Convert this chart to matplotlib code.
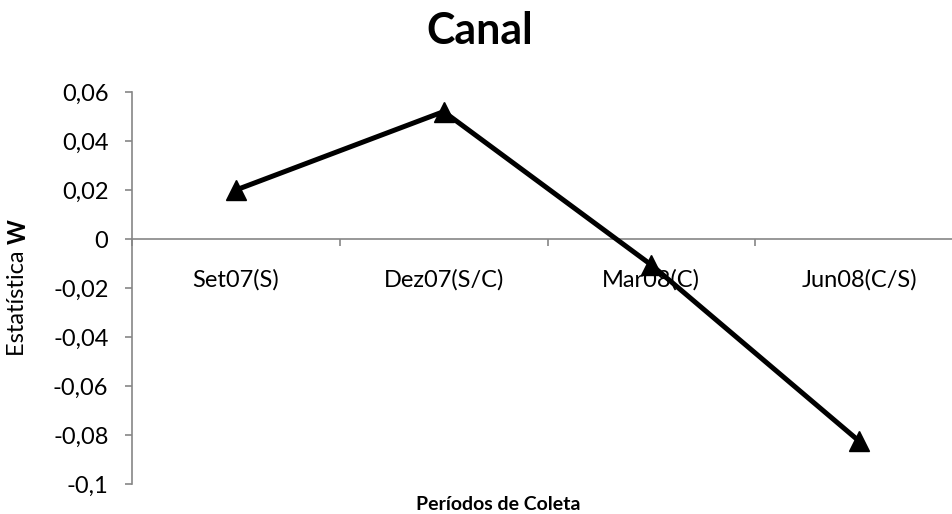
import matplotlib
matplotlib.use("Agg")
import matplotlib.pyplot as plt
from matplotlib.ticker import FixedLocator, FuncFormatter

categories = ["Set07(S)", "Dez07(S/C)", "Mar08(C)", "Jun08(C/S)"]
values = [0.020, 0.052, -0.0106, -0.0825]
yticks = [-0.1, -0.08, -0.06, -0.04, -0.02, 0, 0.02, 0.04, 0.06]

plt.rcParams['font.family'] = ['Lato', 'DejaVu Sans']
W, H = 952, 514
fig = plt.figure(figsize=(W/100, H/100), dpi=100)
ax = fig.add_axes([132/W, (H-484)/H, (963-132)/W, (484-92)/H])

x = list(range(len(categories)))
ax.plot(x, values, color='black', lw=3.6, marker='^', markersize=15, zorder=5, clip_on=False)

ax.set_xlim(-0.5, len(categories)-0.5)
ax.set_ylim(-0.1, 0.06)

gray = '#868686'
for s in ['top', 'right']:
    ax.spines[s].set_visible(False)
ax.spines['left'].set_color(gray)
ax.spines['bottom'].set_color(gray)
ax.spines['bottom'].set_position(('data', 0))
ax.spines['left'].set_linewidth(1.2)
ax.spines['bottom'].set_linewidth(1.2)

ax.set_yticks(yticks)
def fmt(v, p):
    s = ('%g' % round(v, 4)).replace('.', ',')
    if s == '-0':
        s = '0'
    return s
ax.yaxis.set_major_formatter(FuncFormatter(fmt))
ax.tick_params(axis='y', colors=gray, length=5, width=1.2, labelcolor='black', labelsize=17, pad=12)

ax.set_xticks(x)
ax.set_xticklabels(categories)
ax.xaxis.set_minor_locator(FixedLocator([i - 0.5 for i in range(len(categories)+1)]))
ax.tick_params(axis='x', which='major', length=0, labelsize=17, pad=22)
ax.tick_params(axis='x', which='minor', colors=gray, length=5, width=1.2, direction='out')

fig.text(480/W, 1-31/H, 'Canal', fontsize=31, fontweight='bold', ha='center', va='center')
fig.text(498/W, 1-505/H, 'Períodos de Coleta', fontsize=14, fontweight='bold', ha='center', va='center')
fig.text(18/W, 1-244/H, 'Estatística ', fontsize=17, rotation=90, rotation_mode='anchor', ha='right', va='center')
fig.text(18/W, 1-244/H, 'W', fontsize=17, fontweight='bold', rotation=90, rotation_mode='anchor', ha='left', va='center')

fig.savefig('out.png', dpi=100)
